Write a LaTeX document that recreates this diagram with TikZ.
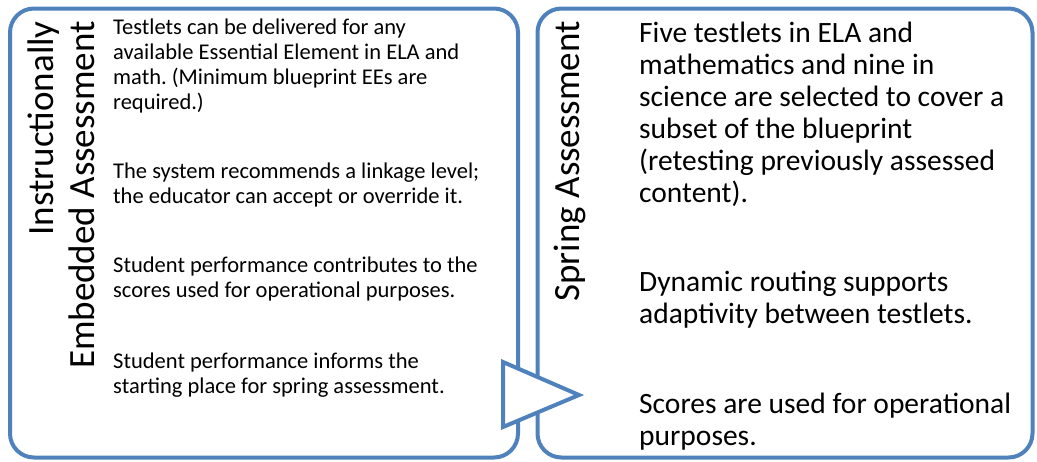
\documentclass[tikz,border=0pt]{standalone}
\usepackage{fontspec}
\setmainfont{Carlito}
\frenchspacing
\usetikzlibrary{positioning,calc}
\definecolor{stageblue}{HTML}{4F81BD}
\tikzstyle{stagebox}=[rectangle, rounded corners=24pt, draw=stageblue, line width=4pt, fill=white, inner sep=0pt]
\tikzstyle{titletext}=[rotate=90, anchor=base east, inner sep=0pt, align=right, font=\fontsize{37}{41}\selectfont]
\tikzstyle{smalltext}=[anchor=base west, inner sep=0pt, align=left, font=\fontsize{22.5}{25}\selectfont]
\tikzstyle{bigtext}=[anchor=base west, inner sep=0pt, align=left, font=\fontsize{29.5}{32}\selectfont]
\tikzstyle{stagearrow}=[draw=stageblue, line width=4pt, fill=white, line join=miter]

\begin{document}
\begin{tikzpicture}[x=1pt, y=-1pt]
\useasboundingbox (0,0) rectangle (1037,461);
\node (IEA) [stagebox, minimum width=508pt, minimum height=449pt] at (264,233) {};
\node (SPR) [stagebox, minimum width=495pt, minimum height=449pt] at (785,233) {};
% titles
\node (IEAT) [titletext] at (94,21) {Instructionally\\Embedded Assessment};
\node (SPRT) [titletext] at (579,21) {Spring Assessment};
% left side (base = last line)
\node (IEA1) [smalltext] at (113,109.5) {Testlets can be delivered for any\\available Essential Element in ELA and\\math. (Minimum blueprint EEs are\\required.)};
\node (IEA2) [smalltext] at (113,203.5) {The system recommends a linkage level;\\the educator can accept or override it.};
\node (IEA3) [smalltext] at (113,297) {Student performance contributes to the\\scores used for operational purposes.};
\node (IEA4) [smalltext] at (113,393.5) {Student performance informs the\\starting place for spring assessment.};
% right side
\node (SPR1) [bigtext] at (639,202.5) {Five testlets in ELA and\\mathematics and nine in\\science are selected to cover a\\subset of the blueprint\\(retesting previously assessed\\content).};
\node (SPR2) [bigtext] at (639,323) {Dynamic routing supports\\adaptivity between testlets.};
\node (SPR3) [bigtext] at (639,445) {Scores are used for operational\\purposes.};
% arrow between stages
\coordinate (ARRA) at ($(IEA.east)+(-17,129)$);
\coordinate (ARRB) at ($(IEA.east)+(59,162)$);
\coordinate (ARRC) at ($(IEA.east)+(-17,194)$);
\draw[stagearrow] (ARRA) -- (ARRB) -- (ARRC) -- cycle;
\end{tikzpicture}
\end{document}
